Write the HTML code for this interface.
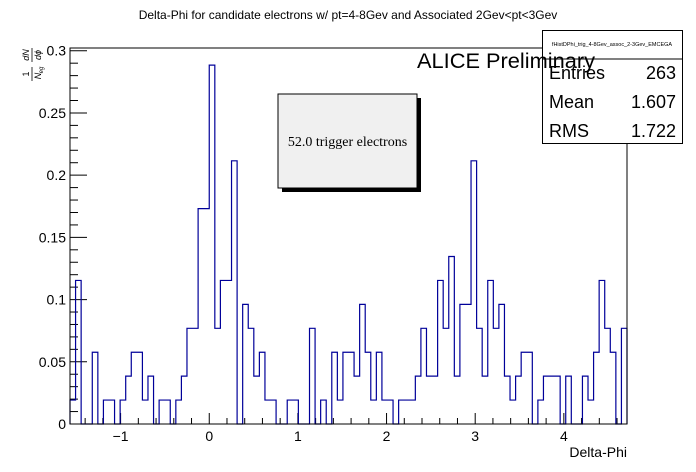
<!DOCTYPE html>
<html><head><meta charset="utf-8"><style>
html,body{margin:0;padding:0;background:#fff;}
svg{display:block;font-family:"Liberation Sans",sans-serif;}
</style></head><body>
<svg id="chart" width="696" height="472" viewBox="0 0 696 472" xmlns="http://www.w3.org/2000/svg">
<rect x="0" y="0" width="696" height="472" fill="#fff"/>
<text x="348" y="19" font-size="12" text-anchor="middle">Delta-Phi for candidate electrons w/ pt=4-8Gev and Associated 2Gev&lt;pt&lt;3Gev</text>
<g id="axes"></g>
<path id="hist" fill="none" stroke="#000099" stroke-width="1.2"/>
<rect x="70" y="48" width="557" height="376" fill="none" stroke="#000" stroke-width="1"/>
<g transform="translate(32,62) rotate(-90)">
<text x="-12" y="-3" font-size="9" text-anchor="middle">1</text>
<line x1="-19" y1="0" x2="-5" y2="0" stroke="#000" stroke-width="0.8"/>
<text x="-14" y="9" font-size="9" text-anchor="middle" font-style="italic">N</text>
<text x="-8" y="11" font-size="6" text-anchor="middle" font-style="italic">eg</text>
<text x="7" y="-3" font-size="9" text-anchor="middle" font-style="italic">dN</text>
<line x1="0" y1="0" x2="14" y2="0" stroke="#000" stroke-width="0.8"/>
<text x="7" y="9" font-size="9" text-anchor="middle" font-style="italic">dϕ</text>
</g>
<text x="627" y="457" font-size="14" text-anchor="end">Delta-Phi</text>
<g>
<rect x="282" y="98" width="139" height="94" fill="#000"/>
<rect x="278" y="94" width="139" height="94" fill="#f0f0f0" stroke="#000" stroke-width="1"/>
<text x="347.5" y="146" font-size="14" text-anchor="middle" font-family="Liberation Serif, serif">52.0 trigger electrons</text>
</g>
<g>
<rect x="542.5" y="30.5" width="140" height="113" fill="#fff" stroke="#000" stroke-width="1"/>
<line x1="542.5" y1="59" x2="682.5" y2="59" stroke="#000" stroke-width="1"/>
<text x="612" y="46" font-size="5.5" text-anchor="middle">fHistDPhi_trig_4-8Gev_assoc_2-3Gev_EMCEGA</text>
<text x="549" y="79" font-size="18">Entries</text><text x="676" y="79" font-size="18" text-anchor="end">263</text>
<text x="549" y="108" font-size="18">Mean</text><text x="676" y="108" font-size="18" text-anchor="end">1.607</text>
<text x="549" y="137" font-size="18">RMS</text><text x="676" y="137" font-size="18" text-anchor="end">1.722</text>
</g>
<text x="417" y="68" font-size="21" textLength="178" lengthAdjust="spacingAndGlyphs">ALICE Preliminary</text>
</svg>
<script>
const counts = [1,6,0,0,3,0,1,1,0,1,2,3,3,1,2,0,1,1,0,1,2,4,4,9,9,15,4,6,6,11,0,5,4,2,3,1,1,0,0,1,1,0,0,4,0,1,0,3,1,3,3,2,5,3,1,3,1,1,0,1,1,1,2,4,2,2,6,4,7,2,5,5,11,4,2,6,4,5,2,1,2,3,3,0,1,2,2,2,0,2,0,0,2,1,3,6,4,3,0,4];
const nTriggers = 52;
const xMin = -Math.PI/2, xMax = 3*Math.PI/2;
const yMin = 0, yMax = 0.3022;
const yTickLabels = ["0","0.05","0.1","0.15","0.2","0.25","0.3"];
const yTickValues = [0,0.05,0.1,0.15,0.2,0.25,0.3];
const xTickLabels = ["\u22121","0","1","2","3","4"];
const xTickValues = [-1,0,1,2,3,4];
const L=70,R=627,T=48,B=424;
const sx=v=>L+(v-xMin)/(xMax-xMin)*(R-L);
const sy=v=>B-(v-yMin)/(yMax-yMin)*(B-T);
const NS="http://www.w3.org/2000/svg";
const axes=document.getElementById('axes');
function mk(tag,attrs){const e=document.createElementNS(NS,tag);for(const k in attrs)e.setAttribute(k,attrs[k]);return e;}
for(let v=0;v<=0.3001;v+=0.01){
  const major=Math.abs(v/0.05-Math.round(v/0.05))<1e-6;
  const y=sy(v);
  const t=mk('line',{x1:L,x2:L+(major?17:8),y1:y,y2:y,stroke:'#000','stroke-width':1});
  
  
  axes.appendChild(t);
}
yTickValues.forEach((v,i)=>{
  const t=mk('text',{x:L-4,y:sy(v)+5,'font-size':14,'text-anchor':'end'});
  t.textContent=yTickLabels[i];
  
  
  axes.appendChild(t);
});
for(let k=-7;k<=23;k++){
  const v=k*0.2; if(v<xMin||v>xMax) continue;
  const major=k%5===0;
  const x=sx(v);
  const t=mk('line',{x1:x,x2:x,y1:B,y2:B-(major?11:6),stroke:'#000','stroke-width':1});
  
  
  axes.appendChild(t);
}
xTickValues.forEach((v,i)=>{
  const t=mk('text',{x:sx(v),y:B+17,'font-size':14,'text-anchor':'middle'});
  t.textContent=xTickLabels[i];
  
  
  axes.appendChild(t);
});
const n=counts.length, w=(xMax-xMin)/n;
let d='M'+sx(xMin)+','+sy(0);
counts.forEach((c,i)=>{
  const y=sy(c/nTriggers);
  d+=' L'+sx(xMin+i*w)+','+y+' L'+sx(xMin+(i+1)*w)+','+y;
});
d+=' L'+sx(xMax)+','+sy(0);
document.getElementById('hist').setAttribute('d',d);
</script>
</body></html>
